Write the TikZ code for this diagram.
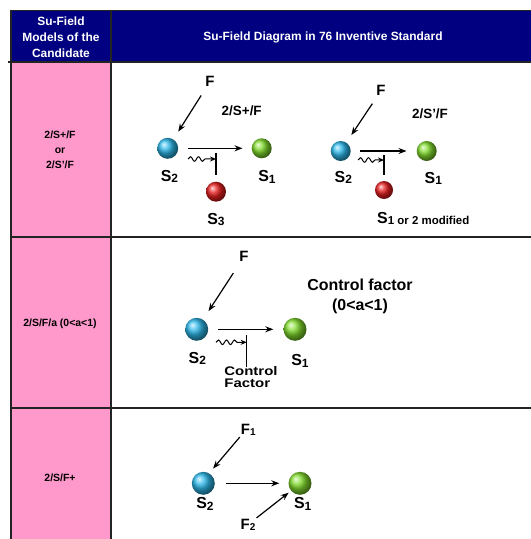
\documentclass[tikz,border=0pt]{standalone}
\usepackage{fontspec}
\usepackage{graphicx}
\setmainfont{Liberation Sans}
\usetikzlibrary{arrows.meta,decorations.pathmorphing}
\definecolor{navyc}{RGB}{0,0,128}
\definecolor{pinkc}{RGB}{255,153,204}
\definecolor{bblue}{RGB}{45,185,235}
\definecolor{bgreen}{RGB}{130,220,45}
\definecolor{bred}{RGB}{232,30,30}
\definecolor{gridc}{RGB}{35,35,35}
\newcommand\fs[1]{\fontsize{#1}{#1}\selectfont}
\newcommand\fss[2]{\fontsize{#1}{#2}\selectfont}
\newcommand\Sb[2]{#1\raisebox{-1.5bp}{\fs{12}#2}}
\newcommand\Fb[2]{#1\raisebox{-1.5bp}{\fs{10}#2}}
\begin{document}
\begin{tikzpicture}[x=1bp,y=-1bp,
  sphere/.style={circle,inner sep=0pt,minimum size=#1},
  flbl/.style={font=\bfseries\fs{15},inner sep=1bp},
  slbl/.style={font=\bfseries\fs{16},inner sep=1bp},
  mlbl/.style={font=\bfseries\fs{13.5},inner sep=1bp},
  hdr/.style={font=\bfseries\fss{12}{16},text=white,inner sep=0pt},
  rowlbl/.style={font=\bfseries\fss{10.5}{15},text=black,inner sep=0pt},
  arr/.style={-{Stealth[length=8bp,width=6bp]},line width=1.2bp},
  wavy/.style={decorate,decoration={snake,segment length=8bp,amplitude=2.3bp,post length=7bp},-{Stealth[length=6bp,width=5bp]},line width=1bp},
  barline/.style={line width=1.4bp},
  grid/.style={draw=gridc,line width=1.3bp}]
\useasboundingbox (0,0) rectangle (531,539);
% table background
\fill[pinkc] (11,62) rectangle (111,539);
\fill[navyc] (11,10.5) rectangle (531,62);
\draw[grid] (11,10.5) -- (531,10.5);
\draw[grid] (8,62) -- (531,62);
\draw[grid] (11,10.5) -- (11,539);
\draw[grid] (111,10.5) -- (111,539);
\draw[grid] (11,237) -- (531,237);
\draw[grid] (11,408) -- (531,408);
% header
\node[hdr,align=center] (h1) at (61,37.5) {Su-Field\\Models of the\\Candidate};
\node[hdr] (h2) at (323,37) {Su-Field Diagram in 76 Inventive Standard};
% row labels
\node[rowlbl,align=center] (r1) at (60,150) {2/S+/F\\or\\2/S'/F};
\node[rowlbl] (r2) at (60,323.3) {2/S/F/a (0<a<1)};
\node[rowlbl] (r3) at (60,477.7) {2/S/F+};
% ---- row 1, diagram A
\node[flbl] (fA) at (210,81.5) {F};
\node[sphere=21bp,ball color=bblue] (s2A) at (167.7,148.3) {};
\node[sphere=20bp,ball color=bgreen] (s1A) at (261.7,148.3) {};
\node[sphere=20bp,ball color=bred] (s3A) at (216,191.7) {};
\node[slbl] (l2A) at (169.5,176.5) {\Sb{S}{2}};
\node[slbl] (l1A) at (267,177) {\Sb{S}{1}};
\node[slbl] (l3A) at (216,219.5) {\Sb{S}{3}};
\node[mlbl] (tA) at (241.7,110.7) {2/S+/F};
\coordinate (bA) at (216,153);
\coordinate (wA) at (188,159);
\draw[arr,shorten <=9bp,shorten >=9bp] (fA) -- (s2A);
\draw[arr,shorten <=10bp,shorten >=9bp] (s2A) -- (s1A);
\draw[barline,shorten >=6.5bp] (bA) -- (s3A);
\draw[wavy] (wA) -- (wA -| bA);
% ---- row 1, diagram B
\node[flbl] (fB) at (381,90.7) {F};
\node[sphere=20bp,ball color=bblue] (s2B) at (340.7,151) {};
\node[sphere=20bp,ball color=bgreen] (s1B) at (426.7,151) {};
\node[sphere=18bp,ball color=bred] (s3B) at (384,190) {};
\node[slbl] (l2B) at (343.3,177.3) {\Sb{S}{2}};
\node[slbl] (l1B) at (433.3,178.3) {\Sb{S}{1}};
\node[slbl,anchor=west] (l3B) at (376,218.3) {S\raisebox{-1.5bp}{\fs{11.5}1 or 2 modified}};
\node[mlbl] (tB) at (430,113.3) {2/S'/F};
\coordinate (bB) at (384,155);
\coordinate (wB) at (358,160);
\draw[arr,shorten <=8bp,shorten >=9bp] (fB) -- (s2B);
\draw[arr,shorten <=9bp,shorten >=10bp] (s2B) -- (s1B);
\draw[barline,shorten >=6bp] (bB) -- (s3B);
\draw[wavy] (wB) -- (wB -| bB);
% ---- row 2
\node[flbl] (fC) at (244,256.7) {F};
\node[sphere=23bp,ball color=bblue] (s2C) at (196.7,329.3) {};
\node[sphere=23bp,ball color=bgreen] (s1C) at (295,329.3) {};
\node[slbl] (l2C) at (197.3,358.3) {\Sb{S}{2}};
\node[slbl] (l1C) at (300,361) {\Sb{S}{1}};
\node[font=\bfseries\fss{12.5}{11},inner sep=0pt] (cf) at (251,379) {\scalebox{1.2}[1]{\begin{tabular}{@{}l@{}}Control\\Factor\end{tabular}}};
\node[align=center,font=\bfseries\fss{16}{19.5},inner sep=0pt] (tC) at (360,296.3) {Control factor\\(0<a<1)};
\coordinate (bC) at (246.7,335);
\coordinate (wC) at (216,342.3);
\draw[arr,shorten <=12bp,shorten >=10bp] (fC) -- (s2C);
\draw[arr,shorten <=10bp,shorten >=10bp] (s2C) -- (s1C);
\draw[barline] (bC) -- (bC |- cf.north);
\draw[wavy] (wC) -- (wC -| bC);
% ---- row 3
\node[flbl] (fD1) at (248.3,430) {\Fb{F}{1}};
\node[sphere=23bp,ball color=bblue] (s2D) at (203.3,483.3) {};
\node[sphere=23bp,ball color=bgreen] (s1D) at (300,483.3) {};
\node[slbl] (l2D) at (205,504) {\Sb{S}{2}};
\node[slbl] (l1D) at (302.7,504) {\Sb{S}{1}};
\node[flbl] (fD2) at (248,525) {\Fb{F}{2}};
\draw[arr,shorten >=6bp] (fD1.south west) -- (s2D.60);
\draw[arr,shorten <=11bp,shorten >=9bp] (s2D) -- (s1D);
\draw[arr,shorten >=3bp] (fD2.north east) -- (s1D.220);
\end{tikzpicture}
\end{document}
